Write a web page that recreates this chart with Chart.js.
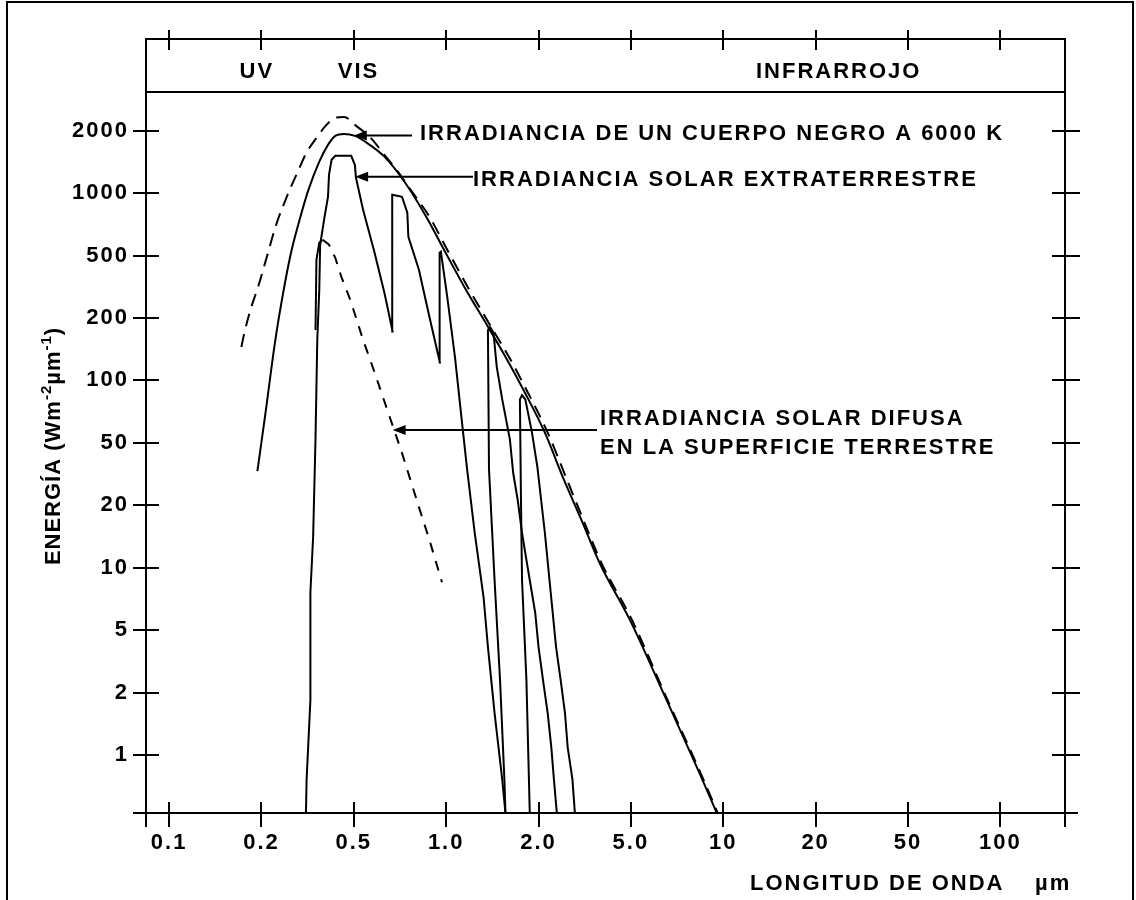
<!DOCTYPE html>
<html lang="es">
<head>
<meta charset="utf-8">
<title>Irradiancia espectral</title>
<script src="https://cdn.jsdelivr.net/npm/chart.js@4/dist/chart.umd.min.js"></script>
<style>
  html, body { margin: 0; padding: 0; background: #fff; }
  canvas { display: block; }
</style>
</head>
<body>
<canvas id="grafico" width="1136" height="900"></canvas>
<script>
// Axis labels: 1-2-5 sequence, every step drawn at the same spacing
const X_TICKS = ['0.1', '0.2', '0.5', '1.0', '2.0', '5.0', '10', '20', '50', '100'];
const Y_TICKS = ['1', '2', '5', '10', '20', '50', '100', '200', '500', '1000', '2000'];

// Wavelength in µm, energy in W m-2 µm-1

// Black body at 6000 K
const bbLambda = [0.194, 0.209, 0.228, 0.245, 0.267, 0.292, 0.319, 0.355, 0.387, 0.416, 0.454, 0.504, 0.545, 0.629, 0.736, 0.861, 0.984, 1.16, 1.37, 1.56, 1.80, 2.13, 2.55, 3.06, 3.67, 4.95, 6.47, 8.36, 9.55];
const bbE      = [33, 72, 149, 261, 505, 744, 1040, 1420, 1710, 1890, 1930, 1890, 1770, 1500, 1120, 770, 533, 303, 181, 130, 88, 56, 30, 17, 10.5, 5.6, 1.9, 0.82, 0.52];

// Dashed envelope above the black body
const envLambda = [0.172, 0.176, 0.185, 0.195, 0.211, 0.230, 0.256, 0.285, 0.313, 0.348, 0.381, 0.416, 0.454, 0.504, 0.567, 0.629, 0.696, 0.765, 0.882, 1.008, 1.189, 1.402, 1.601, 1.842, 2.19, 2.63, 3.12, 3.74, 5.04, 6.52, 8.43, 9.62];
const envE      = [145, 170, 232, 316, 491, 689, 950, 1250, 1570, 1870, 2180, 2420, 2450, 2180, 1850, 1530, 1270, 1040, 770, 533, 303, 181, 130, 88, 56, 30, 17, 10.5, 5.6, 1.9, 0.82, 0.52];

// Extraterrestrial solar irradiance with the absorption windows
const etLambda = [0.311, 0.313, 0.325, 0.325, 0.334, 0.342, 0.348, 0.355, 0.358, 0.374, 0.387, 0.391, 0.401, 0.416, 0.487, 0.504, 0.508, 0.536, 0.581, 0.629, 0.669, 0.667, 0.718, 0.747, 0.753, 0.815, 0.882, 0.954, 0.952, 0.961, 1.008, 1.068, 1.123, 1.170, 1.239, 1.324, 1.368, 1.438, 1.523, 1.561];
const etE      = [0.52, 0.76, 1.84, 7.6, 14.1, 53, 157, 303, 564, 769, 960, 1230, 1450, 1515, 1515, 1370, 1190, 832, 533, 290, 172, 982, 960, 805, 616, 406, 203, 122, 516, 522, 273, 130, 65, 34, 14.7, 7.2, 3.9, 1.59, 0.76, 0.52];

// Window near 1.4 µm
const w14Lambda = [1.561, 1.548, 1.498, 1.438, 1.379, 1.368, 1.391, 1.426, 1.462, 1.523, 1.613, 1.654, 1.710, 1.767, 1.826, 1.873, 1.951, 2.0, 2.09, 2.19, 2.27, 2.33, 2.40];
const w14E      = [0.52, 0.76, 2.41, 8.7, 34, 175, 181, 170, 116, 81, 52, 32, 21.7, 14.7, 10.9, 8.7, 6.05, 3.9, 2.41, 1.59, 1.09, 0.76, 0.52];

// Window near 1.8 µm
const w18Lambda = [1.873, 1.826, 1.767, 1.753, 1.739, 1.767, 1.811, 1.904, 1.983, 2.13, 2.23, 2.38, 2.49, 2.60, 2.67, 2.80, 2.87];
const w18E      = [0.52, 2.41, 8.7, 21.7, 81, 85, 81, 56, 35, 14.7, 8.7, 3.9, 2.41, 1.59, 1.09, 0.76, 0.52];

// Diffuse solar irradiance at the ground
const difLambda = [0.342, 0.345, 0.355, 0.367, 0.391, 0.416, 0.442, 0.483, 0.536, 0.581, 0.643, 0.718, 0.815, 0.882, 0.969];
const difE      = [175, 470, 577, 596, 564, 484, 366, 261, 157, 112, 72, 43, 19.6, 13.6, 8.5];

const FAMILY = '"Liberation Sans", Arial, Helvetica, sans-serif';
const FONT = { family: FAMILY, size: 22, weight: 'bold' };

// Position of a value on a 1-2-5 axis: each decade is three equal steps
function pos125(v, firstDecade) {
  const d = Math.floor(Math.log10(v) + 1e-9);
  const m = v / Math.pow(10, d);
  let r;
  if (m < 2) r = Math.log(m) / Math.LN2;
  else if (m < 5) r = 1 + Math.log(m / 2) / Math.log(2.5);
  else r = 2 + Math.log(m / 5) / Math.LN2;
  return 3 * (d - firstDecade) + r;
}
const xPos = v => pos125(v, -1);   // 0.1 µm -> 0
const yPos = v => pos125(v, 0);    // 1 -> 0
const toPoints = (lam, e) => lam.map((l, i) => ({ x: xPos(l), y: yPos(e[i]) }));

const curve = (label, lam, e, extra) => Object.assign({
  label,
  data: toPoints(lam, e),
  borderColor: '#000',
  borderWidth: 2,
  pointRadius: 0,
  fill: false,
  tension: 0
}, extra || {});

// Frame, band strip and crossing tick marks
const frame = {
  id: 'frame',
  afterDatasetsDraw(chart) {
    const { ctx, chartArea: a, scales: { x, y } } = chart;
    ctx.save();
    ctx.strokeStyle = '#000';
    ctx.lineWidth = 2;
    ctx.lineCap = 'butt';
    ctx.beginPath();
    ctx.rect(a.left, a.top, a.right - a.left, a.bottom - a.top);
    const band = a.top + 53;
    ctx.moveTo(a.left, band); ctx.lineTo(a.right, band);
    x.ticks.forEach(t => {
      const px = Math.round(x.getPixelForValue(t.value));
      ctx.moveTo(px, a.bottom - 11); ctx.lineTo(px, a.bottom + 14);
      ctx.moveTo(px, a.top - 9); ctx.lineTo(px, a.top + 11);
    });
    y.ticks.forEach(t => {
      const py = Math.round(y.getPixelForValue(t.value));
      ctx.moveTo(a.left - 13, py); ctx.lineTo(a.left + 13, py);
      ctx.moveTo(a.right - 13, py); ctx.lineTo(a.right + 15, py);
    });
    ctx.moveTo(a.left - 13, a.bottom); ctx.lineTo(a.left, a.bottom);
    ctx.moveTo(a.right, a.bottom); ctx.lineTo(a.right + 13, a.bottom);
    ctx.moveTo(a.left, a.bottom); ctx.lineTo(a.left, a.bottom + 14);
    ctx.moveTo(a.right, a.bottom); ctx.lineTo(a.right, a.bottom + 14);
    ctx.stroke();
    // page border
    ctx.beginPath();
    ctx.moveTo(7, 900); ctx.lineTo(7, 2); ctx.lineTo(1133, 2); ctx.lineTo(1133, 900);
    ctx.stroke();
    ctx.restore();
  }
};

function arrow(ctx, tipX, tipY, tailX) {
  ctx.beginPath();
  ctx.moveTo(tipX + 8, tipY); ctx.lineTo(tailX, tipY);
  ctx.stroke();
  ctx.beginPath();
  ctx.moveTo(tipX, tipY);
  ctx.lineTo(tipX + 13, tipY - 5);
  ctx.lineTo(tipX + 13, tipY + 5);
  ctx.closePath();
  ctx.fill();
}

// Band names, curve labels with arrows, axis titles
const labels = {
  id: 'labels',
  beforeDraw(chart) { chart.ctx.letterSpacing = '2px'; },
  afterDraw(chart) {
    const { ctx, chartArea: a, scales: { x, y } } = chart;
    ctx.save();
    ctx.fillStyle = '#000';
    ctx.strokeStyle = '#000';
    ctx.lineWidth = 2;
    ctx.font = `bold 22px ${FAMILY}`;
    ctx.letterSpacing = '2px';
    ctx.textBaseline = 'alphabetic';

    ctx.textAlign = 'center';
    const bandBase = a.top + 39;
    ctx.fillText('UV', x.getPixelForValue(0.95), bandBase);
    ctx.fillText('VIS', x.getPixelForValue(2.05), bandBase);
    ctx.fillText('INFRARROJO', x.getPixelForValue(7.25), bandBase);

    ctx.textAlign = 'left';
    // black body
    let tx = x.getPixelForValue(xPos(0.5)), ty = y.getPixelForValue(yPos(1900));
    arrow(ctx, tx, ty, 412);
    ctx.fillText('IRRADIANCIA DE UN CUERPO NEGRO A 6000 K', 420, 140);
    // extraterrestrial
    tx = x.getPixelForValue(xPos(0.505)); ty = y.getPixelForValue(yPos(1200));
    arrow(ctx, tx, ty, 473);
    ctx.fillText('IRRADIANCIA SOLAR EXTRATERRESTRE', 473, 186);
    // diffuse
    tx = x.getPixelForValue(xPos(0.669)); ty = y.getPixelForValue(yPos(57.7));
    arrow(ctx, tx, ty, 597);
    ctx.fillText('IRRADIANCIA SOLAR DIFUSA', 600, 425);
    ctx.fillText('EN LA SUPERFICIE TERRESTRE', 600, 454);

    // x title
    ctx.fillText('LONGITUD DE ONDA', 750, 890);
    ctx.fillText('µm', 1035, 890);

    // y title, rotated, with superscripts
    ctx.save();
    ctx.translate(60, 446);
    ctx.rotate(-Math.PI / 2);
    ctx.letterSpacing = '1px';
    const parts = [['ENERGÍA (Wm', 22, 0], ['-2', 15, -9], ['µm', 22, 0], ['-1', 15, -9], [')', 22, 0]];
    let total = 0;
    parts.forEach(p => { ctx.font = `bold ${p[1]}px ${FAMILY}`; total += ctx.measureText(p[0]).width; });
    let cx = -total / 2;
    parts.forEach(p => {
      ctx.font = `bold ${p[1]}px ${FAMILY}`;
      ctx.fillText(p[0], cx, p[2]);
      cx += ctx.measureText(p[0]).width;
    });
    ctx.restore();

    ctx.restore();
  }
};

new Chart(document.getElementById('grafico'), {
  type: 'line',
  data: {
    datasets: [
      curve('Cuerpo negro 6000 K', bbLambda, bbE, { cubicInterpolationMode: 'monotone' }),
      curve('Envolvente', envLambda, envE, { cubicInterpolationMode: 'monotone', borderDash: [13, 8] }),
      curve('Extraterrestre', etLambda, etE),
      curve('Ventana 1,4 µm', w14Lambda, w14E),
      curve('Ventana 1,8 µm', w18Lambda, w18E),
      curve('Difusa', difLambda, difE, {
        segment: { borderDash: c => (c.p0DataIndex >= 3 ? [10, 9] : undefined) }
      })
    ]
  },
  options: {
    responsive: false,
    animation: false,
    layout: { padding: { top: 39, right: 71, bottom: 0, left: 0 } },
    plugins: { legend: { display: false }, tooltip: { enabled: false } },
    scales: {
      x: {
        type: 'linear',
        min: -0.25,
        max: 9.7,
        afterBuildTicks: s => { s.ticks = X_TICKS.map((_, i) => ({ value: i })); },
        afterFit: s => { s.height = 87; },
        grid: { display: false, drawTicks: false, tickLength: 0 },
        border: { display: false },
        ticks: {
          font: FONT, color: '#000', padding: 17, maxRotation: 0, autoSkip: false,
          callback: v => X_TICKS[Math.round(v)]
        }
      },
      y: {
        type: 'linear',
        min: -0.93,
        max: 11.47,
        afterBuildTicks: s => { s.ticks = Y_TICKS.map((_, i) => ({ value: i })); },
        afterFit: s => { s.width = 146; },
        grid: { display: false, drawTicks: false, tickLength: 0 },
        border: { display: false },
        ticks: {
          font: FONT, color: '#000', padding: 17, autoSkip: false,
          callback: v => Y_TICKS[Math.round(v)]
        }
      }
    }
  },
  plugins: [frame, labels]
});
</script>
</body>
</html>
